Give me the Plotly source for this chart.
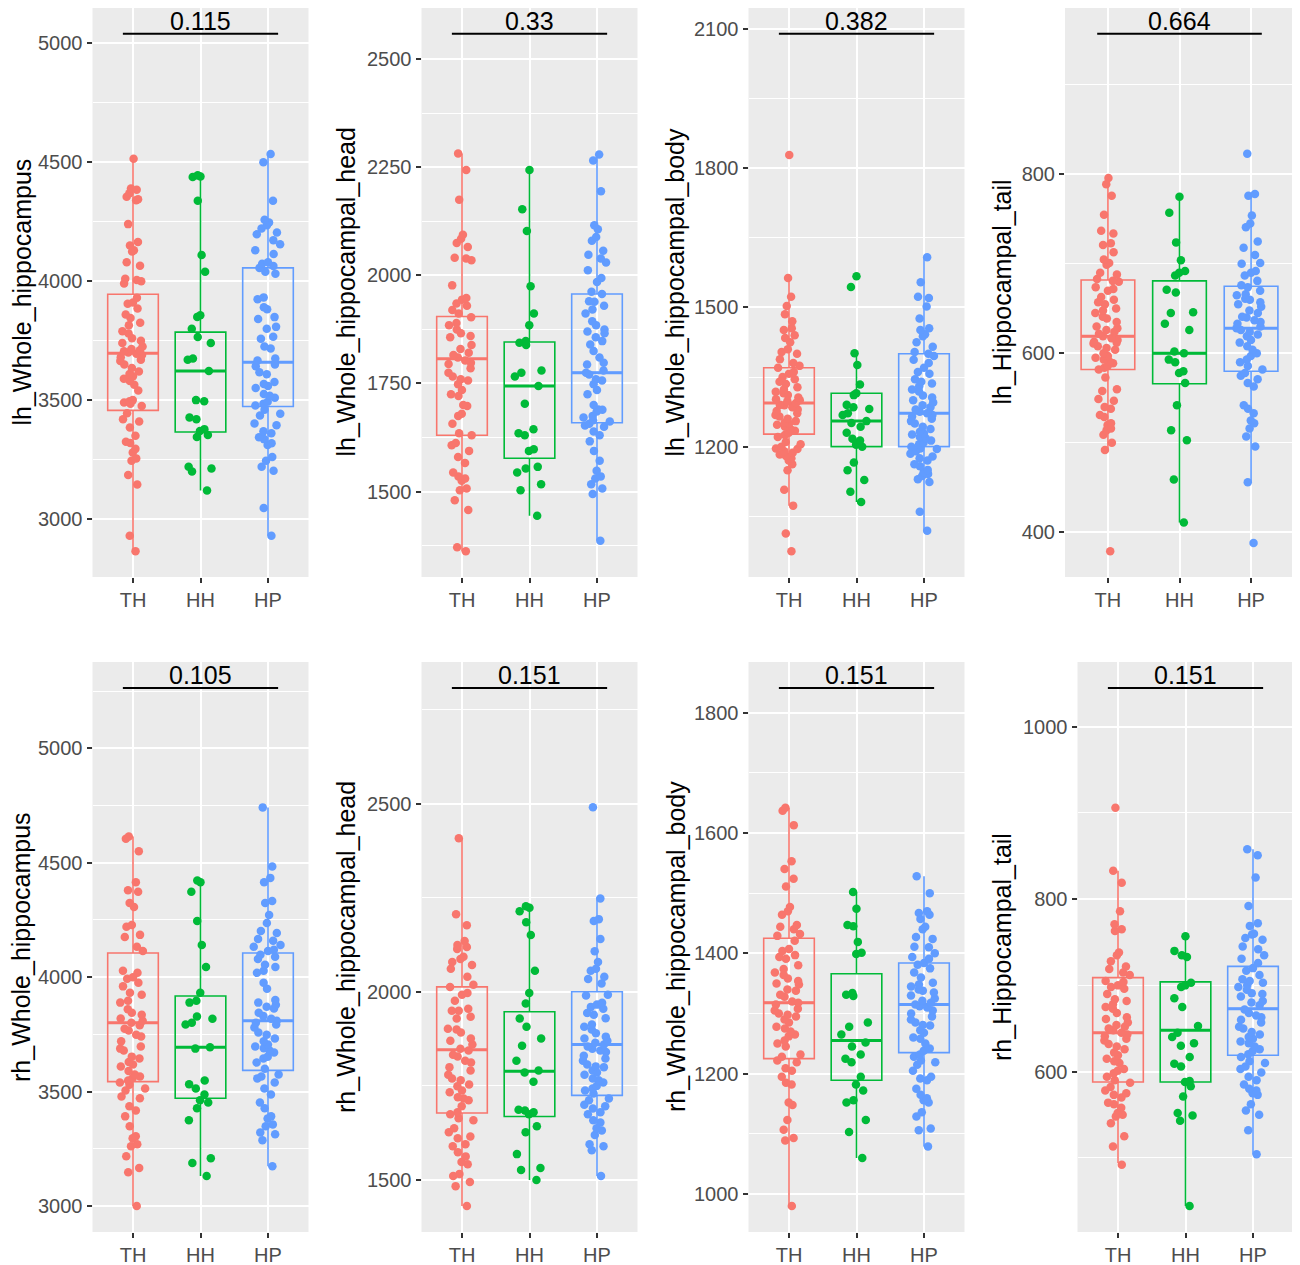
"""Hippocampal subfield volumes by group: box plots with jittered points."""

import plotly.graph_objects as go

GROUPS = ["TH", "HH", "HP"]
COLORS = ["#F8766D", "#00BA38", "#619CFF"]

TITLES = [
    "lh_Whole_hippocampus", "lh_Whole_hippocampal_head",
    "lh_Whole_hippocampal_body", "lh_Hippocampal_tail",
    "rh_Whole_hippocampus", "rh_Whole_hippocampal_head",
    "rh_Whole_hippocampal_body", "rh_Hippocampal_tail",
]
P_VALUES = ["0.115", "0.33", "0.382", "0.664", "0.105", "0.151", "0.151", "0.151"]
BRACKET_Y = [5040, 2559, 2089, 957, 5264, 2807, 1841, 1045]
TICK_STEP = [500, 250, 300, 200, 500, 500, 200, 200]

# box statistics, one entry per panel: TH, HH, HP
TH_Q1 = [3457, 1630, 1227, 582, 3544, 1678, 1225, 588]
TH_MED = [3697, 1807, 1294, 619, 3801, 1846, 1318, 645]
TH_Q3 = [3945, 1905, 1370, 682, 4106, 2013, 1425, 709]
TH_LO = [2865, 1362, 1073, 492, 3000, 1431, 980, 494]
TH_HI = [4515, 2282, 1563, 796, 4615, 2408, 1642, 833]

HH_Q1 = [3366, 1577, 1200, 566, 3471, 1669, 1189, 588]
HH_MED = [3622, 1744, 1255, 600, 3694, 1789, 1255, 648]
HH_Q3 = [3786, 1846, 1315, 681, 3918, 1947, 1366, 704]
HH_LO = [3120, 1444, 1081, 411, 3131, 1500, 1060, 444]
HH_HI = [4445, 2244, 1401, 775, 4423, 2227, 1502, 757]

HP_Q1 = [3473, 1659, 1200, 580, 3593, 1725, 1235, 619]
HP_MED = [3659, 1775, 1272, 628, 3810, 1860, 1315, 673]
HP_Q3 = [4056, 1957, 1400, 675, 4106, 2000, 1384, 722]
HP_LO = [2930, 1386, 1019, 456, 3174, 1511, 1079, 504]
HP_HI = [4535, 2280, 1608, 778, 4742, 2251, 1528, 858]

# individual subjects
lh_whole_th = [4515, 4390, 4385, 4370, 4355, 4345, 4340, 4240, 4165, 4150, 4130, 4125, 4080, 4065, 4010, 4005, 4000, 3990,
               3930, 3910, 3905, 3885, 3860, 3845, 3825, 3815, 3790, 3780, 3760, 3750, 3740, 3725, 3715, 3710, 3705, 3700,
               3695, 3690, 3680, 3670, 3665, 3650, 3635, 3620, 3610, 3600, 3590, 3580, 3565, 3540, 3500, 3495, 3490, 3485,
               3475, 3445, 3420, 3410, 3385, 3350, 3325, 3320, 3295, 3280, 3255, 3245, 3185, 3145, 2930, 2865]
lh_whole_hh = [4445, 4440, 4438, 4338, 4110, 4040, 3857, 3850, 3800, 3765, 3740, 3675, 3670, 3622, 3500, 3495, 3427, 3420,
               3378, 3370, 3353, 3345, 3220, 3212, 3200, 3120]
lh_whole_hp = [4535, 4500, 4338, 4258, 4247, 4235, 4222, 4205, 4197, 4172, 4155, 4130, 4114, 4080, 4073, 4064, 4056, 4040,
               4031, 3932, 3924, 3890, 3882, 3849, 3841, 3808, 3800, 3766, 3758, 3725, 3717, 3675, 3667, 3650, 3642, 3617,
               3609, 3576, 3568, 3559, 3551, 3526, 3518, 3510, 3493, 3485, 3477, 3460, 3443, 3435, 3402, 3394, 3369, 3361,
               3344, 3336, 3319, 3311, 3261, 3245, 3220, 3203, 3046, 2930]

lh_head_th = [2282, 2244, 2175, 2094, 2085, 2075, 2066, 2041, 2039, 2035, 1977, 1948, 1944, 1935, 1930, 1920, 1912, 1903,
              1890, 1885, 1875, 1866, 1860, 1857, 1839, 1830, 1821, 1816, 1810, 1803, 1798, 1795, 1785, 1775, 1766, 1760,
              1757, 1748, 1735, 1725, 1721, 1700, 1698, 1680, 1675, 1657, 1635, 1630, 1612, 1607, 1594, 1580, 1566, 1544,
              1535, 1530, 1525, 1507, 1503, 1480, 1457, 1371, 1362]
lh_head_hh = [2244, 2153, 2103, 1975, 1912, 1885, 1848, 1844, 1839, 1780, 1775, 1766, 1744, 1703, 1644, 1635, 1630, 1598,
              1594, 1557, 1553, 1544, 1517, 1503, 1444]
lh_head_hp = [2280, 2266, 2195, 2116, 2107, 2089, 2080, 2057, 2048, 2039, 2030, 2012, 1994, 1985, 1962, 1957, 1940, 1939,
              1930, 1921, 1912, 1894, 1885, 1875, 1870, 1866, 1857, 1848, 1840, 1825, 1810, 1798, 1794, 1780, 1775, 1771,
              1760, 1757, 1748, 1735, 1725, 1700, 1690, 1689, 1685, 1675, 1671, 1665, 1662, 1657, 1653, 1650, 1639, 1630,
              1616, 1594, 1571, 1548, 1535, 1530, 1517, 1507, 1494, 1386]

lh_body_th = [1828, 1563, 1523, 1503, 1485, 1470, 1455, 1451, 1440, 1434, 1425, 1410, 1404, 1400, 1388, 1380, 1374, 1370,
              1361, 1357, 1350, 1345, 1340, 1335, 1328, 1323, 1318, 1315, 1311, 1306, 1302, 1300, 1298, 1294, 1290, 1289,
              1285, 1280, 1277, 1272, 1268, 1265, 1260, 1255, 1252, 1250, 1247, 1243, 1238, 1234, 1230, 1225, 1221, 1210,
              1205, 1200, 1196, 1195, 1190, 1187, 1183, 1180, 1175, 1170, 1162, 1149, 1107, 1073, 1013, 975]
lh_body_hh = [1567, 1544, 1401, 1376, 1334, 1315, 1311, 1290, 1285, 1281, 1272, 1268, 1255, 1251, 1243, 1230, 1217, 1213,
              1204, 1200, 1166, 1149, 1128, 1103, 1081]
lh_body_hp = [1608, 1554, 1523, 1520, 1502, 1476, 1455, 1451, 1442, 1438, 1425, 1415, 1404, 1400, 1395, 1387, 1380, 1370,
              1361, 1357, 1345, 1340, 1336, 1330, 1323, 1319, 1310, 1306, 1300, 1295, 1289, 1285, 1280, 1275, 1272, 1268,
              1265, 1260, 1255, 1250, 1243, 1238, 1232, 1228, 1226, 1221, 1218, 1213, 1209, 1205, 1200, 1196, 1195, 1190,
              1185, 1179, 1175, 1170, 1162, 1158, 1150, 1145, 1141, 1137, 1130, 1124, 1060, 1019]

lh_tail_th = [796, 789, 776, 755, 737, 734, 723, 721, 713, 705, 701, 699, 690, 688, 683, 681, 680, 674, 672, 670, 663, 660,
              657, 655, 650, 648, 645, 641, 639, 635, 630, 628, 626, 624, 622, 619, 617, 615, 613, 612, 611, 608, 606, 604,
              600, 597, 595, 593, 591, 589, 586, 584, 582, 573, 560, 558, 549, 547, 540, 538, 531, 529, 522, 520, 516, 514,
              509, 500, 492, 379]
lh_tail_hh = [775, 757, 724, 704, 692, 690, 687, 671, 668, 646, 645, 633, 626, 602, 600, 593, 590, 580, 578, 567, 542, 514,
              503, 459, 411]
lh_tail_hp = [823, 778, 776, 754, 745, 741, 725, 718, 710, 701, 700, 692, 690, 687, 681, 676, 674, 670, 666, 665, 661, 660,
              657, 655, 652, 648, 645, 641, 640, 637, 635, 633, 630, 628, 626, 624, 621, 619, 615, 612, 608, 604, 600, 597,
              593, 590, 586, 582, 578, 575, 571, 567, 563, 542, 538, 533, 525, 522, 516, 507, 496, 456, 388]

rh_whole_th = [4615, 4605, 4550, 4415, 4380, 4373, 4324, 4307, 4228, 4220, 4185, 4176, 4133, 4115, 4028, 4019, 4000, 3993,
               3976, 3960, 3932, 3923, 3897, 3889, 3860, 3845, 3836, 3820, 3810, 3801, 3790, 3775, 3767, 3749, 3741, 3720,
               3697, 3688, 3680, 3653, 3645, 3630, 3619, 3610, 3590, 3575, 3566, 3560, 3549, 3540, 3530, 3514, 3505, 3479,
               3471, 3436, 3418, 3392, 3349, 3305, 3296, 3270, 3261, 3218, 3166, 3148, 3000]
rh_whole_hh = [4423, 4415, 4373, 4246, 4141, 4045, 3932, 3897, 3889, 3828, 3819, 3801, 3793, 3694, 3688, 3549, 3532, 3514,
               3488, 3462, 3453, 3427, 3375, 3209, 3188, 3131]
rh_whole_hp = [4742, 4484, 4434, 4415, 4333, 4324, 4272, 4237, 4202, 4193, 4167, 4159, 4141, 4133, 4120, 4115, 4098, 4089,
               4080, 4054, 4045, 4028, 4019, 3976, 3950, 3900, 3889, 3880, 3871, 3863, 3845, 3830, 3819, 3810, 3801, 3793,
               3780, 3758, 3749, 3732, 3720, 3706, 3697, 3690, 3680, 3671, 3653, 3645, 3627, 3600, 3575, 3566, 3558, 3540,
               3514, 3488, 3453, 3427, 3392, 3383, 3357, 3349, 3322, 3314, 3288, 3174]

rh_head_th = [2408, 2206, 2177, 2135, 2124, 2119, 2114, 2093, 2087, 2079, 2071, 2061, 2040, 2019, 2013, 1997, 1992, 1976,
              1955, 1950, 1950, 1934, 1929, 1902, 1900, 1892, 1876, 1870, 1860, 1849, 1844, 1833, 1828, 1817, 1812, 1800,
              1791, 1780, 1770, 1765, 1754, 1749, 1738, 1733, 1720, 1717, 1712, 1696, 1680, 1675, 1664, 1659, 1638, 1627,
              1616, 1611, 1595, 1590, 1574, 1563, 1548, 1542, 1516, 1511, 1495, 1484, 1431]
rh_head_hh = [2227, 2223, 2214, 2185, 2151, 2056, 1997, 1969, 1929, 1907, 1876, 1857, 1817, 1791, 1786, 1761, 1687, 1685,
              1680, 1675, 1643, 1627, 1569, 1532, 1527, 1500]
rh_head_hp = [2490, 2248, 2193, 2188, 2140, 2108, 2079, 2061, 2056, 2040, 2034, 2022, 1992, 1990, 1971, 1966, 1960, 1955,
              1944, 1939, 1930, 1913, 1907, 1900, 1890, 1881, 1876, 1870, 1865, 1860, 1855, 1849, 1844, 1840, 1830, 1823,
              1817, 1807, 1802, 1800, 1791, 1786, 1780, 1770, 1765, 1759, 1750, 1743, 1738, 1730, 1717, 1712, 1700, 1696,
              1690, 1680, 1675, 1659, 1653, 1638, 1632, 1620, 1595, 1590, 1579, 1511]

rh_body_th = [1642, 1637, 1613, 1553, 1540, 1524, 1511, 1477, 1470, 1464, 1447, 1444, 1440, 1432, 1429, 1421, 1407, 1404,
              1397, 1394, 1391, 1380, 1374, 1368, 1364, 1358, 1354, 1350, 1348, 1340, 1338, 1331, 1328, 1320, 1318, 1315,
              1308, 1305, 1300, 1298, 1295, 1290, 1285, 1278, 1275, 1270, 1265, 1262, 1255, 1250, 1245, 1232, 1228, 1222,
              1219, 1209, 1205, 1195, 1185, 1182, 1152, 1148, 1123, 1107, 1093, 1089, 980]
rh_body_hh = [1502, 1474, 1447, 1445, 1419, 1401, 1399, 1334, 1331, 1329, 1285, 1278, 1265, 1252, 1245, 1232, 1225, 1219,
              1195, 1182, 1172, 1156, 1152, 1123, 1103, 1060]
rh_body_hp = [1528, 1500, 1470, 1467, 1464, 1457, 1444, 1440, 1427, 1424, 1411, 1410, 1400, 1394, 1391, 1384, 1381, 1375,
              1368, 1360, 1351, 1348, 1345, 1340, 1338, 1335, 1330, 1325, 1321, 1318, 1315, 1312, 1310, 1305, 1300, 1295,
              1290, 1285, 1281, 1280, 1272, 1268, 1260, 1258, 1250, 1242, 1238, 1232, 1228, 1222, 1219, 1215, 1205, 1195,
              1192, 1189, 1175, 1165, 1159, 1156, 1152, 1136, 1129, 1109, 1106, 1079]

rh_tail_th = [906, 833, 819, 786, 771, 765, 763, 738, 735, 728, 722, 719, 715, 712, 705, 704, 700, 698, 696, 690, 684, 682,
              678, 675, 673, 668, 663, 661, 657, 654, 652, 650, 648, 645, 643, 641, 638, 636, 632, 629, 626, 622, 619, 615,
              612, 610, 603, 601, 598, 594, 590, 587, 582, 578, 575, 573, 570, 564, 562, 558, 552, 550, 548, 540, 525, 513,
              492]
rh_tail_hh = [757, 740, 735, 733, 703, 700, 698, 685, 675, 653, 645, 640, 633, 630, 617, 609, 606, 589, 588, 583, 571, 552,
              549, 543, 444]
rh_tail_hp = [858, 851, 825, 792, 772, 769, 760, 759, 755, 753, 745, 742, 735, 731, 726, 720, 717, 712, 707, 705, 703, 700,
              698, 695, 691, 690, 687, 682, 680, 677, 672, 668, 665, 663, 660, 657, 652, 650, 646, 643, 640, 638, 635, 633,
              629, 626, 624, 620, 617, 612, 610, 606, 603, 599, 594, 590, 585, 580, 578, 575, 573, 562, 555, 550, 532, 504]

PANELS = [
    (lh_whole_th, lh_whole_hh, lh_whole_hp),
    (lh_head_th, lh_head_hh, lh_head_hp),
    (lh_body_th, lh_body_hh, lh_body_hp),
    (lh_tail_th, lh_tail_hh, lh_tail_hp),
    (rh_whole_th, rh_whole_hh, rh_whole_hp),
    (rh_head_th, rh_head_hh, rh_head_hp),
    (rh_body_th, rh_body_hh, rh_body_hp),
    (rh_tail_th, rh_tail_hh, rh_tail_hp),
]
STATS = [
    (TH_Q1, TH_MED, TH_Q3, TH_LO, TH_HI),
    (HH_Q1, HH_MED, HH_Q3, HH_LO, HH_HI),
    (HP_Q1, HP_MED, HP_Q3, HP_LO, HP_HI),
]

# page geometry in window pixels; the page body adds an 8px margin
OFF = 8
W, H = 1300 - OFF, 1265 - OFF
PANEL_X = [(92.5, 308.5), (421.5, 637.5), (748.5, 964.5), (1065, 1294),
           (92.5, 308.5), (421.5, 637.5), (748.5, 964.5), (1077.5, 1293.5)]
ROW_Y = [(8, 577), (662, 1232)]
TITLE_X = [21, 345, 674, 1001, 21, 346, 676, 1002]


def px_x(px):
    return min(1, max(0, (px - OFF) / W))


def px_y(py):
    return min(1, max(0, 1 - (py - OFF) / H))


FONT = "Liberation Sans, Arial, sans-serif"
CLEAR = "rgba(0,0,0,0)"

fig = go.Figure()
layout = {}
shapes = []
annotations = []

for i in range(8):
    sfx = "" if i == 0 else str(i + 1)
    xa, ya = "x" + sfx, "y" + sfx

    # boxes (from the read statistics), then a heavier median bar
    for g, (name, color) in enumerate(zip(GROUPS, COLORS)):
        q1, med, q3, lo, hi = (s[i] for s in STATS[g])
        fig.add_trace(go.Box(
            x=[name], q1=[q1], median=[med], q3=[q3], lowerfence=[lo], upperfence=[hi],
            boxpoints=False, whiskerwidth=0, fillcolor=CLEAR,
            line=dict(color=color, width=1.6), xaxis=xa, yaxis=ya,
            showlegend=False, hoverinfo="skip",
        ))
        fig.add_trace(go.Box(
            x=[name], q1=[med], median=[med], q3=[med], lowerfence=[med], upperfence=[med],
            boxpoints=False, whiskerwidth=0, fillcolor=CLEAR,
            line=dict(color=color, width=3), xaxis=xa, yaxis=ya,
            showlegend=False, hoverinfo="skip",
        ))

    # jittered subject points
    for g, (name, color) in enumerate(zip(GROUPS, COLORS)):
        vals = PANELS[i][g]
        fig.add_trace(go.Box(
            x=[name] * len(vals), y=vals, boxpoints="all", jitter=0.62, pointpos=0,
            fillcolor=CLEAR, line=dict(width=0), marker=dict(color=color, size=8.5),
            xaxis=xa, yaxis=ya, showlegend=False,
        ))

    # y range like ggplot: data + bracket, 5% expansion
    lo_all = min(min(v) for v in PANELS[i] + tuple([s[3][i]] for s in STATS))
    span = BRACKET_Y[i] - lo_all
    yr = [lo_all - 0.05 * span, BRACKET_Y[i] + 0.05 * span]

    row = 0 if i < 4 else 1
    x0, x1 = PANEL_X[i]
    y0, y1 = ROW_Y[row]
    step = TICK_STEP[i]
    tick_style = dict(
        ticks="outside", ticklen=5, tickwidth=2, tickcolor="#333333",
        tickfont=dict(family=FONT, size=20, color="#4D4D4D"),
        showline=False, zeroline=False, gridcolor="white", gridwidth=2.2,
    )
    layout["xaxis" + sfx] = dict(
        domain=[px_x(x0), px_x(x1)], anchor=ya, type="category",
        categoryorder="array", categoryarray=GROUPS, range=[-0.6, 2.6],
        showgrid=True, **tick_style,
    )
    layout["yaxis" + sfx] = dict(
        domain=[px_y(y1), px_y(y0)], anchor=xa, range=yr,
        tickmode="linear", tick0=0, dtick=step, showgrid=True,
        minor=dict(tick0=0, dtick=step / 2, showgrid=True, gridcolor="white", gridwidth=1.1),
        **tick_style,
    )

    # comparison bracket and p-value
    shapes.append(dict(
        type="line", xref=xa, yref=ya, x0=-0.15, x1=2.15,
        y0=BRACKET_Y[i], y1=BRACKET_Y[i], line=dict(color="black", width=2),
    ))
    annotations.append(dict(
        x="HH", y=BRACKET_Y[i], xref=xa, yref=ya, text=P_VALUES[i],
        showarrow=False, yanchor="bottom", yshift=-3,
        font=dict(family=FONT, size=25, color="black"),
    ))
    annotations.append(dict(
        x=px_x(TITLE_X[i]), y=px_y((y0 + y1) / 2), xref="paper", yref="paper",
        text=TITLES[i], textangle=-90, showarrow=False,
        xanchor="center", yanchor="middle",
        font=dict(family=FONT, size=25, color="black"),
    ))

fig.update_layout(
    width=W, height=H, margin=dict(l=0, r=0, t=0, b=0),
    paper_bgcolor="white", plot_bgcolor="#EBEBEB",
    boxmode="overlay", boxgap=0.25, boxgroupgap=0, showlegend=False,
    shapes=shapes, annotations=annotations, **layout,
)

fig.write_html("out.html")
